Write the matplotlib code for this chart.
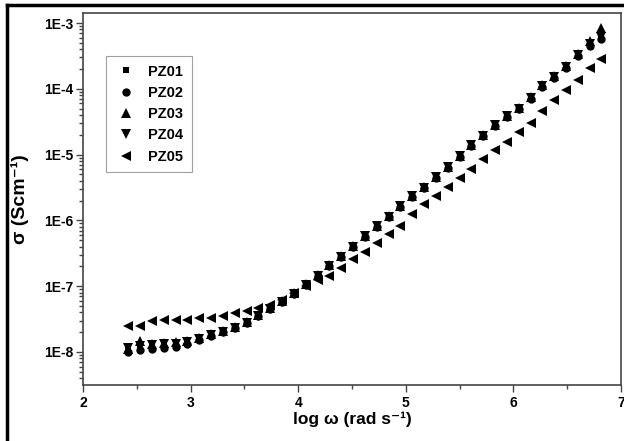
import matplotlib
matplotlib.use('Agg')
import matplotlib.pyplot as plt
from matplotlib.lines import Line2D
from matplotlib.ticker import FixedLocator, LogLocator, FuncFormatter, NullFormatter
import numpy as np

plt.rcParams['font.family'] = ['Liberation Sans', 'DejaVu Sans']

# log(omega) values
log_w = [2.42, 2.53, 2.64, 2.75, 2.86, 2.97, 3.08, 3.19, 3.30, 3.41,
         3.52, 3.63, 3.74, 3.85, 3.96, 4.07, 4.18, 4.29, 4.40, 4.51,
         4.62, 4.73, 4.84, 4.95, 5.06, 5.17, 5.28, 5.39, 5.50, 5.61,
         5.72, 5.83, 5.94, 6.05, 6.16, 6.27, 6.38, 6.49, 6.60, 6.71, 6.81]

pz01 = [1.22e-8, 1.28e-8, 1.31e-8, 1.34e-8, 1.37e-8, 1.47e-8, 1.62e-8, 1.86e-8, 2.07e-8, 2.38e-8,
        2.84e-8, 3.62e-8, 4.62e-8, 5.90e-8, 7.80e-8, 1.07e-7, 1.47e-7, 2.08e-7, 2.86e-7, 4.06e-7,
        5.76e-7, 8.15e-7, 1.16e-6, 1.65e-6, 2.35e-6, 3.21e-6, 4.56e-6, 6.46e-6, 9.50e-6, 1.40e-5,
        1.98e-5, 2.82e-5, 3.86e-5, 4.95e-5, 7.25e-5, 1.11e-4, 1.52e-4, 2.16e-4, 3.30e-4, 5.10e-4, 6.40e-4]
pz02 = [1.00e-8, 1.08e-8, 1.12e-8, 1.15e-8, 1.18e-8, 1.30e-8, 1.50e-8, 1.78e-8, 2.00e-8, 2.32e-8,
        2.78e-8, 3.55e-8, 4.55e-8, 5.80e-8, 7.70e-8, 1.05e-7, 1.44e-7, 2.05e-7, 2.80e-7, 3.98e-7,
        5.65e-7, 8.00e-7, 1.13e-6, 1.61e-6, 2.28e-6, 3.12e-6, 4.45e-6, 6.30e-6, 9.30e-6, 1.36e-5,
        1.93e-5, 2.75e-5, 3.78e-5, 4.85e-5, 7.10e-5, 1.08e-4, 1.48e-4, 2.10e-4, 3.20e-4, 4.40e-4, 5.80e-4]
pz03 = [1.10e-8, 1.45e-8, 1.30e-8, 1.35e-8, 1.40e-8, 1.48e-8, 1.63e-8, 1.88e-8, 2.10e-8, 2.40e-8,
        2.86e-8, 3.66e-8, 4.68e-8, 5.95e-8, 7.90e-8, 1.08e-7, 1.49e-7, 2.10e-7, 2.90e-7, 4.10e-7,
        5.82e-7, 8.25e-7, 1.17e-6, 1.67e-6, 2.38e-6, 3.25e-6, 4.62e-6, 6.55e-6, 9.65e-6, 1.42e-5,
        2.01e-5, 2.86e-5, 3.92e-5, 5.05e-5, 7.40e-5, 1.13e-4, 1.56e-4, 2.22e-4, 3.40e-4, 5.40e-4, 8.30e-4]
pz04 = [1.15e-8, 1.22e-8, 1.27e-8, 1.30e-8, 1.33e-8, 1.42e-8, 1.58e-8, 1.83e-8, 2.03e-8, 2.34e-8,
        2.78e-8, 3.57e-8, 4.56e-8, 5.82e-8, 7.72e-8, 1.05e-7, 1.45e-7, 2.05e-7, 2.82e-7, 4.00e-7,
        5.70e-7, 8.08e-7, 1.14e-6, 1.63e-6, 2.31e-6, 3.16e-6, 4.50e-6, 6.38e-6, 9.40e-6, 1.38e-5,
        1.95e-5, 2.78e-5, 3.80e-5, 4.88e-5, 7.15e-5, 1.09e-4, 1.50e-4, 2.12e-4, 3.22e-4, 4.80e-4, 6.20e-4]
pz05 = [2.47e-8, 2.47e-8, 2.96e-8, 3.07e-8, 3.09e-8, 3.09e-8, 3.26e-8, 3.32e-8, 3.53e-8, 3.93e-8,
        4.21e-8, 4.68e-8, 5.11e-8, 6.08e-8, 7.77e-8, 9.93e-8, 1.23e-7, 1.41e-7, 1.87e-7, 2.56e-7,
        3.27e-7, 4.48e-7, 6.14e-7, 8.13e-7, 1.24e-6, 1.76e-6, 2.33e-6, 3.19e-6, 4.38e-6, 6.00e-6,
        8.51e-6, 1.17e-5, 1.55e-5, 2.19e-5, 3.01e-5, 4.58e-5, 6.73e-5, 9.55e-5, 1.36e-4, 2.07e-4, 2.83e-4]

series = [('PZ01', pz01, 's', 5.0),
          ('PZ02', pz02, 'o', 6.0),
          ('PZ03', pz03, '^', 6.5),
          ('PZ04', pz04, 'v', 6.5),
          ('PZ05', pz05, '<', 6.5)]

fig = plt.figure(figsize=(6.24, 4.41), dpi=100)
ax = fig.add_axes([83 / 624, 1 - 385 / 441, (621 - 83) / 624, (385 - 13) / 441])

for name, vals, mk, ms in series:
    ax.plot(log_w, vals, linestyle='none', marker=mk, markersize=ms,
            color='black', markeredgewidth=0, label=name)

ax.set_yscale('log')
ax.set_xlim(2, 7)
ax.set_ylim(3.15e-9, 1.42e-3)

ax.xaxis.set_major_locator(FixedLocator([2, 3, 4, 5, 6, 7]))
ax.xaxis.set_minor_locator(FixedLocator([2.5, 3.5, 4.5, 5.5, 6.5]))
ax.yaxis.set_major_locator(FixedLocator([1e-8, 1e-7, 1e-6, 1e-5, 1e-4, 1e-3]))
ax.yaxis.set_minor_locator(LogLocator(base=10, subs=np.arange(2, 10), numticks=20))
ax.yaxis.set_minor_formatter(NullFormatter())
ax.yaxis.set_major_formatter(FuncFormatter(lambda v, p: '1E%d' % round(np.log10(v))))

ax.tick_params(which='both', direction='out', top=False, right=False,
               color='#444444', width=1)
ax.tick_params(which='major', length=5)
ax.tick_params(which='minor', length=3)
ax.tick_params(axis='x', labelsize=10, pad=3)
ax.tick_params(axis='y', labelsize=10, pad=2)
for lab in ax.get_xticklabels() + ax.get_yticklabels():
    lab.set_fontweight('bold')

for sp in ax.spines.values():
    sp.set_color('#444444')
    sp.set_linewidth(1.2)

ax.set_xlabel('log \u03c9 (rad s\u207b\u00b9)', fontsize=12.5, fontweight='bold', labelpad=1)
ax.set_ylabel('\u03c3 (Scm\u207b\u00b9)', fontsize=14, fontweight='bold', va='center')
ax.yaxis.set_label_coords(-0.117, 0.5)

leg = ax.legend(loc='upper left', bbox_to_anchor=(0.043, 0.885), frameon=True,
                fancybox=False, prop={'weight': 'bold', 'size': 10.5},
                labelspacing=0.5, handletextpad=0.8, borderpad=0.6,
                handlelength=1.5, borderaxespad=0)
leg.get_frame().set_edgecolor('#888888')
leg.get_frame().set_linewidth(0.8)

# outer frame (left and top edges of a cropped border)
fig.add_artist(Line2D([7 / 624, 7 / 624], [0, 1 - 5 / 441], color='black', lw=2.5,
                      transform=fig.transFigure))
fig.add_artist(Line2D([7 / 624, 1], [1 - 5 / 441, 1 - 5 / 441], color='black', lw=2.5,
                      transform=fig.transFigure))

fig.savefig('out.png', dpi=100)
